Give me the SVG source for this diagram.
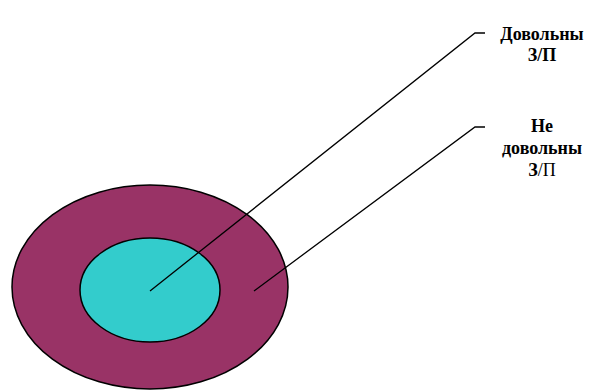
<svg xmlns="http://www.w3.org/2000/svg" width="612" height="392" viewBox="0 0 612 392">
<style>
.lbl{font-family:'Liberation Serif','DejaVu Serif',serif;font-size:18px;font-weight:bold;text-anchor:middle;fill:#000}
.ln{fill:none;stroke:#000;stroke-width:1.3}
</style>
<rect width="612" height="392" fill="#fff"/>
<g id="outer"><ellipse cx="150" cy="287" rx="138" ry="102" fill="#993366" stroke="#000" stroke-width="1.5"/></g>
<g id="inner"><ellipse cx="150" cy="290" rx="70" ry="52" fill="#33CCCC" stroke="#000" stroke-width="1.5"/></g>
<g id="connectors">
<polyline class="ln" points="150,291 475,33 485,33"/>
<polyline class="ln" points="254,291 475,127 485,127"/>
</g>
<g id="label1">
<text class="lbl" x="542" y="40">Довольны</text>
<text class="lbl" x="542" y="61">З/П</text>
</g>
<g id="label2">
<text class="lbl" x="542" y="132">Не</text>
<text class="lbl" x="542" y="154">довольны</text>
<text class="lbl" x="542" y="176">З<tspan font-weight="normal">/П</tspan></text>
</g>
</svg>
